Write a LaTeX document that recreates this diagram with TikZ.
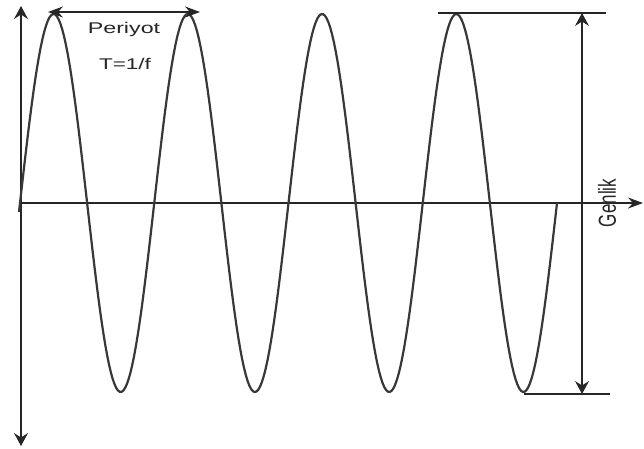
\documentclass[tikz,border=0pt]{standalone}
\usepackage{fontspec}
\setmainfont{Liberation Sans}
\usetikzlibrary{arrows.meta}
\begin{document}
\begin{tikzpicture}[x=1pt,y=-1pt,
  axis/.style={line width=1.1pt, draw=black!85},
  vhead/.tip={Stealth[length=13pt,width=14pt,inset=4.5pt]},
  hhead/.tip={Stealth[length=15pt,width=11pt,inset=5pt]},
  vtip/.style={-vhead},
  htip/.style={-hhead},
  vboth/.style={vhead-vhead},
  hboth/.style={hhead-hhead},
  wave/.style={line width=2.2pt, draw=black!78},
  lbl/.style={font=\fontsize{15.5}{18}\selectfont, text=black!85, inner sep=0pt}]
\useasboundingbox (0,0) rectangle (644,448);
% coordinates
\coordinate (o) at (21,203);
\coordinate (vtop) at (21,6);
\coordinate (vbot) at (21,446);
\coordinate (hend) at (643,203);
\coordinate (pl) at (48,12);
\coordinate (pr) at (200,12);
\coordinate (tl1) at (438,13);
\coordinate (tl2) at (606,13);
\coordinate (bl1) at (524,394);
\coordinate (bl2) at (610,394);
\coordinate (at) at (582,13);
\coordinate (ab) at (582,394);
% axes
\draw[axis,vtip] (o) -- (vtop);
\draw[axis,vtip] (o) -- (vbot);
\draw[axis,htip] (o) -- (hend);
% wave
\draw[wave] plot[samples=300,domain=19:557] ({\x},{203-189*sin(2.68156*(\x-20))});
% period
\draw[axis,hboth] (pl) -- (pr);
\node[lbl,anchor=base] (per) at (124,33) {\scalebox{1.5}[1]{Periyot}};
\node[lbl,anchor=base] (tf) at (125,69) {\scalebox{1.45}[1]{T=1/f}};
% amplitude
\draw[axis] (tl1) -- (tl2);
\draw[axis] (bl1) -- (bl2);
\draw[axis,vboth] (ab) -- (at);
\node[lbl,font=\fontsize{17}{20}\selectfont] (gen) at (607,203) {\scalebox{1.45}[1]{\rotatebox{90}{Genlik}}};
\end{tikzpicture}
\end{document}
